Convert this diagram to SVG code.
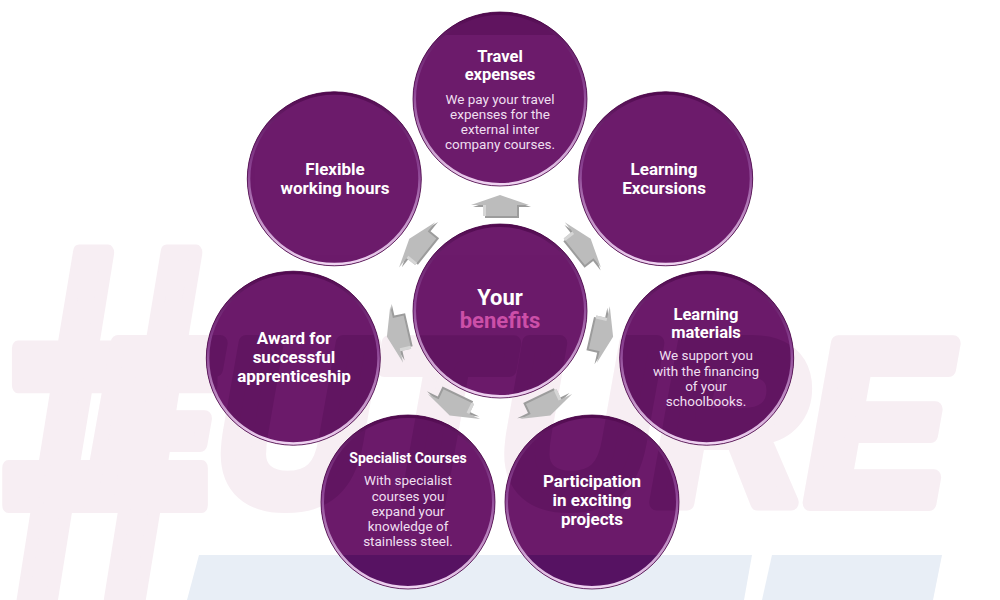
<svg xmlns="http://www.w3.org/2000/svg" width="1000" height="600" viewBox="0 0 1000 600">
  <defs>
    <style>
      .title{font-family:Roboto,"Liberation Sans",sans-serif;font-weight:700;font-size:17px;fill:#ffffff;text-anchor:middle}
      .title-t{font-family:Roboto,"Liberation Sans",sans-serif;font-weight:700;font-size:16.5px;fill:#ffffff;text-anchor:middle}
      .title-s{font-family:Roboto,"Liberation Sans",sans-serif;font-weight:700;font-size:14px;fill:#ffffff;text-anchor:middle}
      .body{font-family:Roboto,"Liberation Sans",sans-serif;font-weight:400;font-size:13.5px;fill:#efdff0;text-anchor:middle}
      .center{font-family:Roboto,"Liberation Sans",sans-serif;font-weight:700;font-size:22px;text-anchor:middle}
      .disc{fill:#6c1b6b}
      .rim{fill:none;stroke:url(#rimGrad);stroke-width:3}
      .edge{fill:none;stroke:#4a0848;stroke-width:0.8}
      .wm{font-family:"Liberation Sans",Arial,sans-serif;font-weight:700;font-style:italic}
    </style>
    <linearGradient id="rimGrad" x1="0" y1="0" x2="0" y2="1">
      <stop offset="0" stop-color="#520a50"/>
      <stop offset="0.45" stop-color="#8c4494"/>
      <stop offset="1" stop-color="#f0d4f2"/>
    </linearGradient>
    <g id="wmPink">
      <text class="wm" x="-4" y="600" font-size="510" textLength="216" lengthAdjust="spacingAndGlyphs">#</text>
      <text class="wm" x="86" y="503" font-size="232" textLength="862" lengthAdjust="spacingAndGlyphs">FUTURE</text>
    </g>
    <g id="wmBlue">
      <polygon points="187,600 199,555 752,555 744,600"/>
      <polygon points="762,600 772,555 942,555 933,600"/>
    </g>
    <clipPath id="discClip">
      <circle cx="500" cy="311" r="87"/>
      <circle cx="500" cy="99" r="87"/>
      <circle cx="665.7" cy="178.8" r="87"/>
      <circle cx="706.7" cy="358.2" r="87"/>
      <circle cx="592" cy="502" r="87"/>
      <circle cx="408" cy="502" r="87"/>
      <circle cx="293.3" cy="358.2" r="87"/>
      <circle cx="334.3" cy="178.8" r="87"/>
    </clipPath>
    <g id="arr">
      <path d="M-27,-104 L2,-114 L31,-104 L19,-104 L19,-93 L-15,-93 L-15,-104 Z" fill="#9c9c9c"/>
      <path d="M-29,-106 L0,-116 L29,-106 L17,-106 L17,-95 L-17,-95 L-17,-106 Z" fill="#bcbcbc"/>
      <path d="M-17,-106 L-14,-106 L-14,-95 L-17,-95 Z" fill="#d6d6d6"/>
    </g>
  </defs>

  <rect x="0" y="0" width="1000" height="600" fill="#ffffff"/>

  <g id="watermark">
    <use href="#wmPink" fill="#f7eef3" stroke="#f7eef3" stroke-width="16" stroke-linejoin="round"/>
    <use href="#wmBlue" fill="#e8eef6"/>
  </g>

  <g id="connectors">
    <use href="#arr" transform="translate(500,311) rotate(0)"/>
    <use href="#arr" transform="translate(500,311) rotate(51.43)"/>
    <use href="#arr" transform="translate(500,311) rotate(102.86)"/>
    <use href="#arr" transform="translate(500,311) rotate(154.29)"/>
    <use href="#arr" transform="translate(500,311) rotate(205.71)"/>
    <use href="#arr" transform="translate(500,311) rotate(257.14)"/>
    <use href="#arr" transform="translate(500,311) rotate(308.57)"/>
  </g>

  <g id="discs">
    <circle class="disc" cx="500" cy="311" r="87"/>
    <circle class="disc" cx="500" cy="99" r="87"/>
    <circle class="disc" cx="665.7" cy="178.8" r="87"/>
    <circle class="disc" cx="706.7" cy="358.2" r="87"/>
    <circle class="disc" cx="592" cy="502" r="87"/>
    <circle class="disc" cx="408" cy="502" r="87"/>
    <circle class="disc" cx="293.3" cy="358.2" r="87"/>
    <circle class="disc" cx="334.3" cy="178.8" r="87"/>
  </g>

  <g id="disc-shading" clip-path="url(#discClip)">
    <use href="#wmPink" fill="#3a003c" stroke="#3a003c" stroke-width="16" stroke-linejoin="round" opacity="0.2"/>
    <use href="#wmBlue" fill="#2a0050" opacity="0.3"/>
    <rect x="0" y="0" width="1000" height="35" fill="#3a003c" opacity="0.25"/>
  </g>

  <g id="rims">
    <circle class="rim" cx="500" cy="311" r="85.5"/>
    <circle class="rim" cx="500" cy="99" r="85.5"/>
    <circle class="rim" cx="665.7" cy="178.8" r="85.5"/>
    <circle class="rim" cx="706.7" cy="358.2" r="85.5"/>
    <circle class="rim" cx="592" cy="502" r="85.5"/>
    <circle class="rim" cx="408" cy="502" r="85.5"/>
    <circle class="rim" cx="293.3" cy="358.2" r="85.5"/>
    <circle class="rim" cx="334.3" cy="178.8" r="85.5"/>
    <circle class="edge" cx="500" cy="311" r="87"/>
    <circle class="edge" cx="500" cy="99" r="87"/>
    <circle class="edge" cx="665.7" cy="178.8" r="87"/>
    <circle class="edge" cx="706.7" cy="358.2" r="87"/>
    <circle class="edge" cx="592" cy="502" r="87"/>
    <circle class="edge" cx="408" cy="502" r="87"/>
    <circle class="edge" cx="293.3" cy="358.2" r="87"/>
    <circle class="edge" cx="334.3" cy="178.8" r="87"/>
  </g>

  <g id="node-center">
    <text class="center" x="500" y="305"><tspan x="500" y="305" fill="#ffffff">Your</tspan><tspan x="500" y="328" fill="#cc4fa8">benefits</tspan></text>
  </g>

  <g id="node-travel">
    <text class="title-t" x="500" y="62"><tspan x="500" y="62">Travel</tspan><tspan x="500" y="79.5">expenses</tspan></text>
    <text class="body" x="500" y="103.5"><tspan x="500" y="103.5">We pay your travel</tspan><tspan x="500" y="118.8">expenses for the</tspan><tspan x="500" y="134">external inter</tspan><tspan x="500" y="149.3">company courses.</tspan></text>
  </g>

  <g id="node-excursions">
    <text class="title" x="664" y="175"><tspan x="664" y="175">Learning</tspan><tspan x="664" y="194">Excursions</tspan></text>
  </g>

  <g id="node-materials">
    <text class="title-t" x="706" y="320"><tspan x="706" y="320">Learning</tspan><tspan x="706" y="337.5">materials</tspan></text>
    <text class="body" x="706" y="360"><tspan x="706" y="360">We support you</tspan><tspan x="706" y="375.5">with the financing</tspan><tspan x="706" y="391">of your</tspan><tspan x="706" y="406">schoolbooks.</tspan></text>
  </g>

  <g id="node-projects">
    <text class="title" x="592" y="487"><tspan x="592" y="487">Participation</tspan><tspan x="592" y="506">in exciting</tspan><tspan x="592" y="525">projects</tspan></text>
  </g>

  <g id="node-courses">
    <text class="title-s" x="408" y="463">Specialist Courses</text>
    <text class="body" x="408" y="485"><tspan x="408" y="485">With specialist</tspan><tspan x="408" y="500.5">courses you</tspan><tspan x="408" y="516">expand your</tspan><tspan x="408" y="531">knowledge of</tspan><tspan x="408" y="546">stainless steel.</tspan></text>
  </g>

  <g id="node-award">
    <text class="title" x="294" y="344"><tspan x="294" y="344">Award for</tspan><tspan x="294" y="363">successful</tspan><tspan x="294" y="382">apprenticeship</tspan></text>
  </g>

  <g id="node-flexible">
    <text class="title" x="335" y="175"><tspan x="335" y="175">Flexible</tspan><tspan x="335" y="194">working hours</tspan></text>
  </g>
</svg>
